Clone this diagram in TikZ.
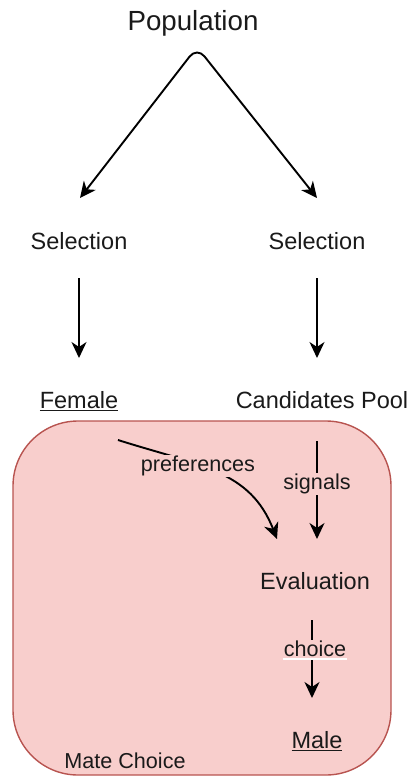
\documentclass[tikz,border=0pt]{standalone}
\usepackage{fontspec}
\setmainfont{Liberation Sans}
\usetikzlibrary{arrows.meta}
\definecolor{boxfill}{HTML}{F8CECC}
\definecolor{boxdraw}{HTML}{B85450}
\definecolor{txt}{HTML}{1A1A1A}
\tikzset{
  lbl/.style={inner sep=1pt, text=txt, font=\fontsize{23.5}{26}\selectfont},
  elbl/.style={inner sep=1pt, fill=boxfill, text=txt, font=\fontsize{21.6}{24}\selectfont},
  tip/.tip={Stealth[length=16pt,width=15pt,inset=5pt]},
  conn/.style={line width=1.9pt, -tip},
  mate/.style={fill=boxfill, draw=boxdraw, line width=1.4pt, rounded corners=65pt}
}
\begin{document}
\begin{tikzpicture}[x=1pt,y=-1pt]
\useasboundingbox (0,0) rectangle (410,776);
\draw[mate] (13,421) rectangle (391,775);
\node[lbl, font=\fontsize{27.7}{30}\selectfont] (pop) at (193,23) {Population};
\coordinate (apex) at (197,47);
\node[lbl] (selL) at (79,241) {Selection};
\node[lbl] (selR) at (317,241) {Selection};
\coordinate (tipL) at (80,198);
\coordinate (tipR) at (317,198);
\draw[conn, tip-tip, rounded corners=12pt] (tipL) -- (apex) -- (tipR);
\node[lbl] (fem) at (79,401) {\underline{Female}};
\node[lbl] (pool) at (322,400) {Candidates Pool};
\coordinate (sL1) at (79,278);
\coordinate (sL2) at (79,358);
\coordinate (sR1) at (317,278);
\coordinate (sR2) at (317,358);
\draw[conn] (sL1) -- (sL2);
\draw[conn] (sR1) -- (sR2);
\node[lbl] (eval) at (315,581) {Evaluation};
\node[lbl] (male) at (317,741) {\underline{Male}};
\node[elbl, fill=none] (mc) at (125,761) {Mate Choice};
% preferences
\coordinate (pA) at (118,440);
\coordinate (pB) at (277,539);
\draw[conn] (pA) .. controls (200,466) and (250,470) .. (pB);
\node[elbl] (pref) at (198,466) {preferences};
% signals
\coordinate (gA) at (317,441);
\coordinate (gB) at (317,539);
\draw[conn] (gA) -- (gB);
\node[elbl] (sig) at (317,484) {signals};
% choice
\coordinate (cA) at (312,620);
\coordinate (cB) at (312,698);
\draw[conn] (cA) -- (cB);
\node[elbl] (cho) at (315,649) {choice};
\draw[white, line width=1.6pt] ([yshift=-1pt]cho.south west) -- ([yshift=-1pt]cho.south east);
\end{tikzpicture}
\end{document}
